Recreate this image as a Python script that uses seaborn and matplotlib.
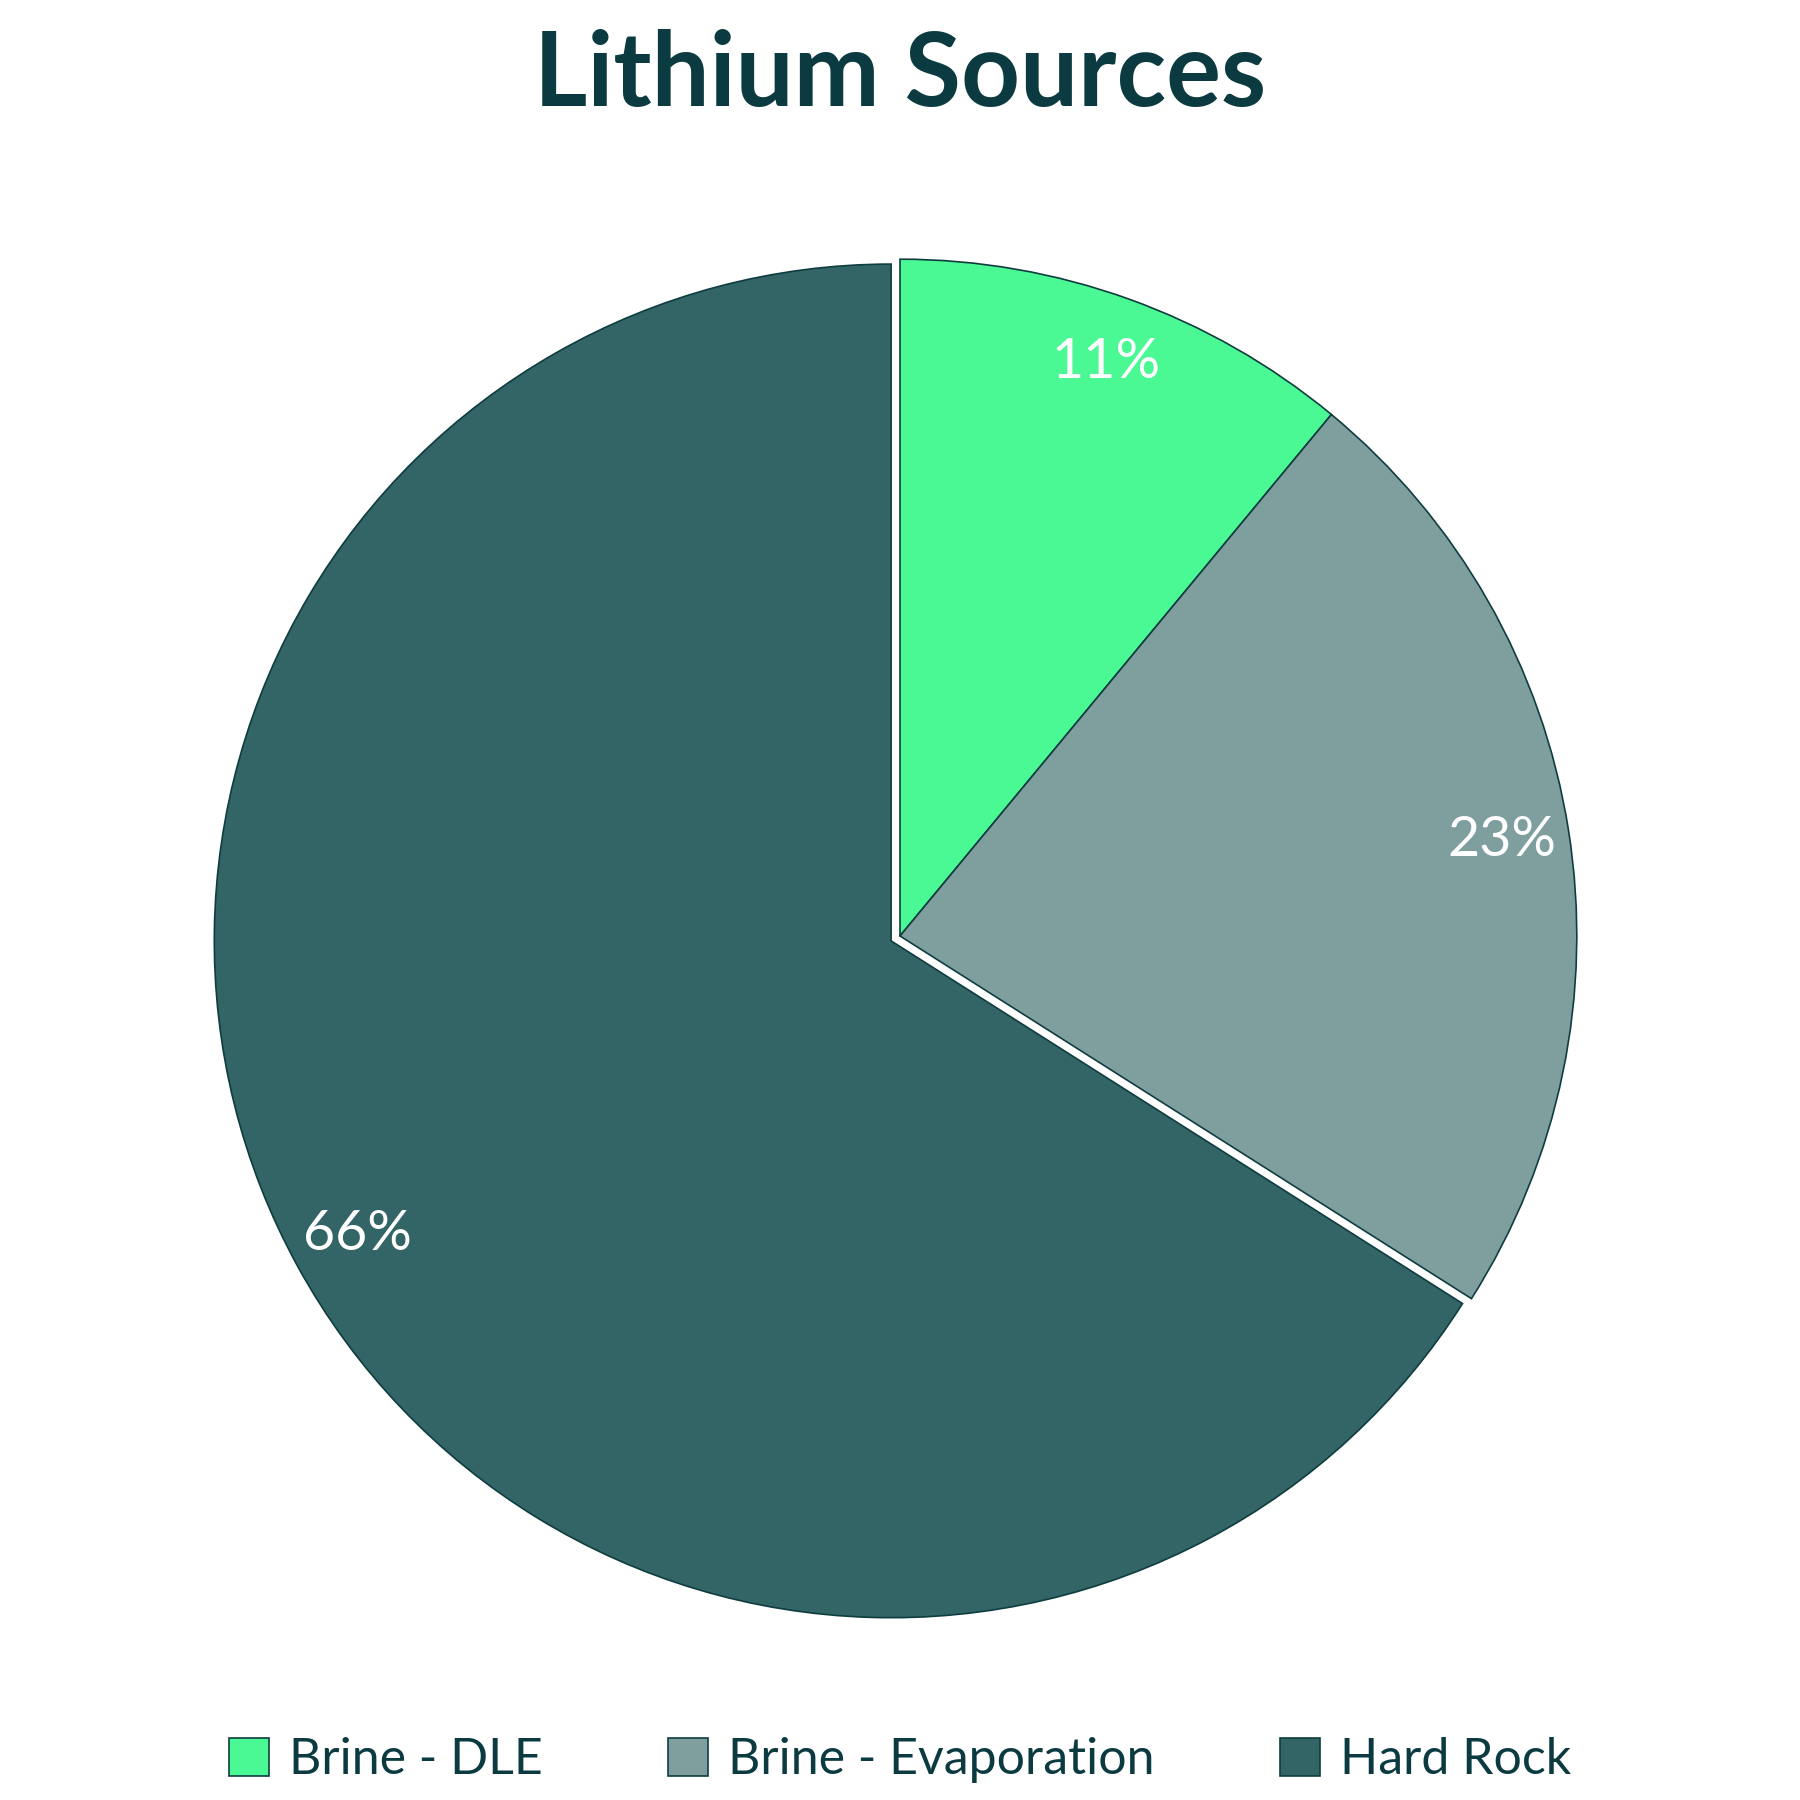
import matplotlib
matplotlib.use("Agg")
import matplotlib.pyplot as plt
import seaborn as sns

sns.set_theme(style="white")
plt.rcParams['font.family'] = ['Lato', 'DejaVu Sans']

labels = ["Brine - DLE", "Brine - Evaporation", "Hard Rock"]
shares = [11, 23, 66]
colors = ["#4AF994", "#7F9F9F", "#336466"]
explode = [0, 0, 0.015]

fig = plt.figure(figsize=(18, 18), dpi=100)
ax = fig.add_axes([0.03, 0.01, 0.94, 0.94])
wedges, texts, autotexts = ax.pie(
    shares, colors=colors, startangle=90, counterclock=False,
    explode=explode, autopct='%d%%', pctdistance=0.9,
    wedgeprops=dict(edgecolor="#0F3D3F", linewidth=1.2),
    textprops=dict(color="white", fontsize=40))
ax.set_aspect("equal")

fig.text(0.5, 0.958, "Lithium Sources", ha="center", va="center",
         fontsize=74, fontweight="bold", color="#0B3B40")

fig.legend(wedges, labels, loc="center", bbox_to_anchor=(0.5, 0.022),
           ncol=3, frameon=False, fontsize=36, handlelength=0.8,
           handleheight=0.8, columnspacing=2.5, handletextpad=0.4,
           labelcolor="#0B3B40")

fig.savefig("out.png", dpi=100, facecolor="white")
